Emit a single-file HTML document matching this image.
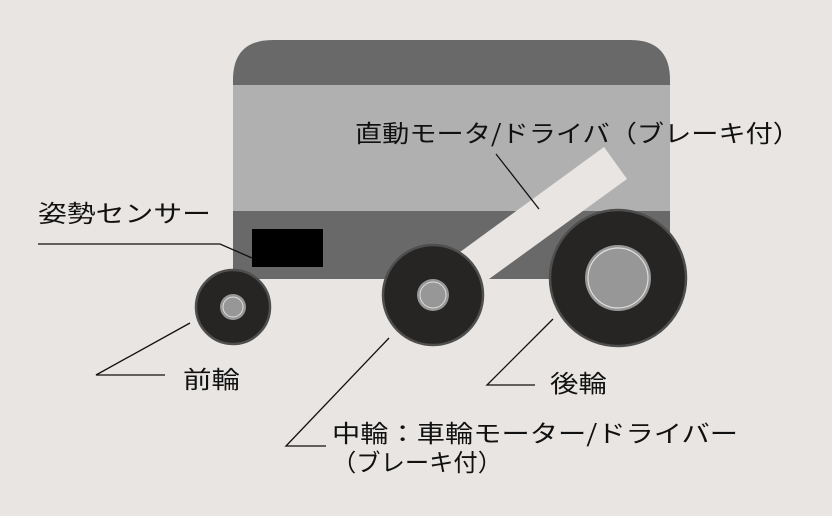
<!DOCTYPE html>
<html><head><meta charset="utf-8"><style>
html,body{margin:0;padding:0;background:#e8e5e2;}
svg{display:block;}
text{font-family:"Noto Sans CJK JP","Liberation Sans",sans-serif;font-size:24px;fill:#111;}
</style></head><body>
<svg width="832" height="516" viewBox="0 0 832 516">
<rect width="832" height="516" fill="#e8e5e2"/>
<path d="M233,85 V80 Q233,40 273,40 H630 Q670,40 670,80 V85 Z" fill="#696969"/>
<rect x="233" y="85" width="437" height="126" fill="#b0b0b0"/>
<rect x="233" y="211" width="437" height="68" fill="#696969"/>
<rect x="252" y="229" width="71" height="38" fill="#000"/>
<polygon points="604,147 627,179 489,279 423,279" fill="#e8e5e2"/>
<g stroke="#4e4e4e" stroke-width="2.5">
<circle cx="233" cy="307" r="37" fill="#262524"/>
<circle cx="433" cy="295" r="50" fill="#262524"/>
<circle cx="618" cy="278" r="68" fill="#262524"/>
</g>
<circle cx="233" cy="307" r="13" fill="#979797"/><circle cx="233" cy="307" r="10" fill="none" stroke="#ddd" stroke-width="1"/>
<circle cx="433" cy="295" r="16" fill="#979797"/><circle cx="433" cy="295" r="13" fill="none" stroke="#ddd" stroke-width="1"/>
<circle cx="618" cy="278" r="33" fill="#979797"/><circle cx="618" cy="278" r="30" fill="none" stroke="#ddd" stroke-width="1.2"/>
<g stroke="#111" stroke-width="1.3" fill="none">
<polyline points="38,244 220,244 252,258"/>
<line x1="496" y1="154" x2="539" y2="209"/>
<polyline points="190,323 96,375 165,375"/>
<polyline points="389,338 286,446 326,446"/>
<polyline points="553,319 487,385 535,385"/>
</g>
<text x="355" y="142" textLength="445" lengthAdjust="spacingAndGlyphs">直動モータ/ドライバ（ブレーキ付）</text>
<text x="38" y="222" textLength="173" lengthAdjust="spacingAndGlyphs">姿勢センサー</text>
<text x="183" y="388" textLength="57" lengthAdjust="spacingAndGlyphs">前輪</text>
<text x="550" y="392" textLength="57" lengthAdjust="spacingAndGlyphs">後輪</text>
<text x="332" y="442" textLength="406" lengthAdjust="spacingAndGlyphs">中輪：車輪モーター/ドライバー</text>
<text x="332" y="471" textLength="170" lengthAdjust="spacingAndGlyphs">（ブレーキ付）</text>
</svg>
</body></html>
